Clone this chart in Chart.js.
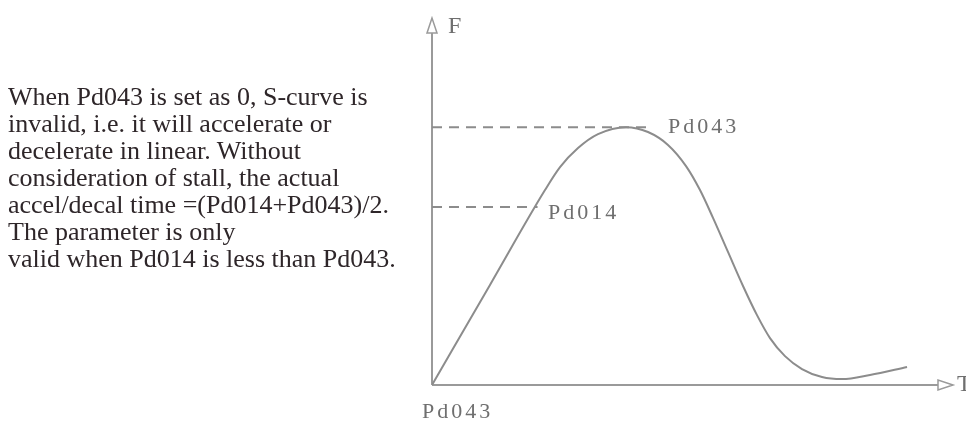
<!DOCTYPE html>
<html>
<head>
<meta charset="utf-8">
<script src="https://cdn.jsdelivr.net/npm/chart.js@4/dist/chart.umd.min.js"></script>
<style>
	html, body { margin: 0; padding: 0; background: #fff; }
	#wrap { position: relative; width: 966px; height: 423px; overflow: hidden; }
	#curve { position: absolute; left: 0; top: 0; }
	#note {
		position: absolute; left: 8px; top: 83px;
		font-family: "Liberation Serif", serif; font-size: 26px; line-height: 27px;
		color: #2e2629; white-space: nowrap;
	}
</style>
</head>
<body>
<div id="wrap">
	<canvas id="curve" width="966" height="423"></canvas>
	<div id="note">When Pd043 is set as 0, S-curve is<br>invalid, i.e. it will accelerate or<br>decelerate in linear. Without<br>consideration of stall, the actual<br>accel/decal time =(Pd014+Pd043)/2.<br>The parameter is only<br>valid when Pd014 is less than Pd043.</div>
</div>
<script>
// S-curve frequency profile (time vs. frequency, arbitrary units)
const timeValues = [0, 11.15, 21.73, 24.62, 28.08, 31.92, 37.31, 41.54, 45.38, 48.85, 51.54, 54.04, 56.92, 59.81, 62.5, 65.0, 67.88, 71.15, 75.0, 78.85, 84.23, 91.35];
const freqValues = [0, 38.8, 75.6, 84.5, 91.9, 97.3, 100, 98.1, 93.1, 84.9, 75.6, 64.8, 51.6, 38.4, 27.1, 18.2, 11.2, 6.2, 3.1, 2.3, 3.9, 7.0];

// reference levels
const pd043Level = 100;
const pd014Level = 69;
const pd043DashEnd = 42;
const pd014DashEnd = 20.3;

const timeMax = 100;
const freqMax = 140;

const lineGray = "#8c8c8c";
const axisGray = "#9a9a9a";
const labelGray = "#6f6f6f";

function toPoints(xs, ys) {
	return xs.map((x, i) => ({x: x, y: ys[i]}));
}

const axesPlugin = {
	id: "axes",
	beforeDatasetsDraw(chart) {
		const ctx = chart.ctx;
		const xs = chart.scales.x;
		const ys = chart.scales.y;
		const ox = xs.getPixelForValue(0);
		const oy = ys.getPixelForValue(0);
		const topY = ys.getPixelForValue(freqMax);
		const rightX = xs.getPixelForValue(timeMax);
		ctx.save();
		ctx.strokeStyle = axisGray;
		ctx.lineWidth = 2;
		ctx.beginPath();
		ctx.moveTo(ox, oy);
		ctx.lineTo(ox, topY + 9);
		ctx.moveTo(ox, oy);
		ctx.lineTo(rightX - 14, oy);
		ctx.stroke();
		// open arrowheads
		ctx.lineWidth = 1.5;
		ctx.beginPath();
		ctx.moveTo(ox, topY - 6);
		ctx.lineTo(ox - 5, topY + 9);
		ctx.lineTo(ox + 5, topY + 9);
		ctx.closePath();
		ctx.moveTo(rightX + 1, oy);
		ctx.lineTo(rightX - 14, oy - 5);
		ctx.lineTo(rightX - 14, oy + 5);
		ctx.closePath();
		ctx.fillStyle = "#fff";
		ctx.fill();
		ctx.stroke();
		ctx.restore();
	},
	afterDatasetsDraw(chart) {
		const ctx = chart.ctx;
		const xs = chart.scales.x;
		const ys = chart.scales.y;
		const ox = xs.getPixelForValue(0);
		const oy = ys.getPixelForValue(0);
		ctx.save();
		ctx.fillStyle = labelGray;
		ctx.font = "24px 'Liberation Serif'";
		ctx.textBaseline = "middle";
		ctx.fillText("F", ox + 16, ys.getPixelForValue(freqMax) + 3);
		ctx.fillText("T", xs.getPixelForValue(timeMax) + 5, oy);
		ctx.font = "22px 'Liberation Serif'";
		ctx.letterSpacing = "3px";
		ctx.fillText("Pd043", xs.getPixelForValue(45.4), ys.getPixelForValue(pd043Level));
		ctx.fillText("Pd014", xs.getPixelForValue(22.3), ys.getPixelForValue(pd014Level) + 6);
		ctx.textBaseline = "top";
		ctx.fillText("Pd043", ox - 10, oy + 16);
		ctx.restore();
	}
};

new Chart(document.getElementById("curve"), {
	type: "line",
	data: {
		datasets: [
			{
				data: toPoints(timeValues, freqValues),
				borderColor: lineGray,
				borderWidth: 2,
				cubicInterpolationMode: "monotone",
				pointRadius: 0
			},
			{
				data: toPoints([0, pd043DashEnd], [pd043Level, pd043Level]),
				borderColor: lineGray,
				borderWidth: 2,
				borderDash: [10, 7],
				pointRadius: 0
			},
			{
				data: toPoints([0, pd014DashEnd], [pd014Level, pd014Level]),
				borderColor: lineGray,
				borderWidth: 2,
				borderDash: [10, 7],
				pointRadius: 0
			}
		]
	},
	options: {
		responsive: false,
		animation: false,
		layout: {padding: {left: 432, right: 14, top: 24, bottom: 38}},
		plugins: {legend: {display: false}, tooltip: {enabled: false}},
		scales: {
			x: {type: "linear", min: 0, max: timeMax, display: false},
			y: {type: "linear", min: 0, max: freqMax, display: false}
		}
	},
	plugins: [axesPlugin]
});
</script>
</body>
</html>
